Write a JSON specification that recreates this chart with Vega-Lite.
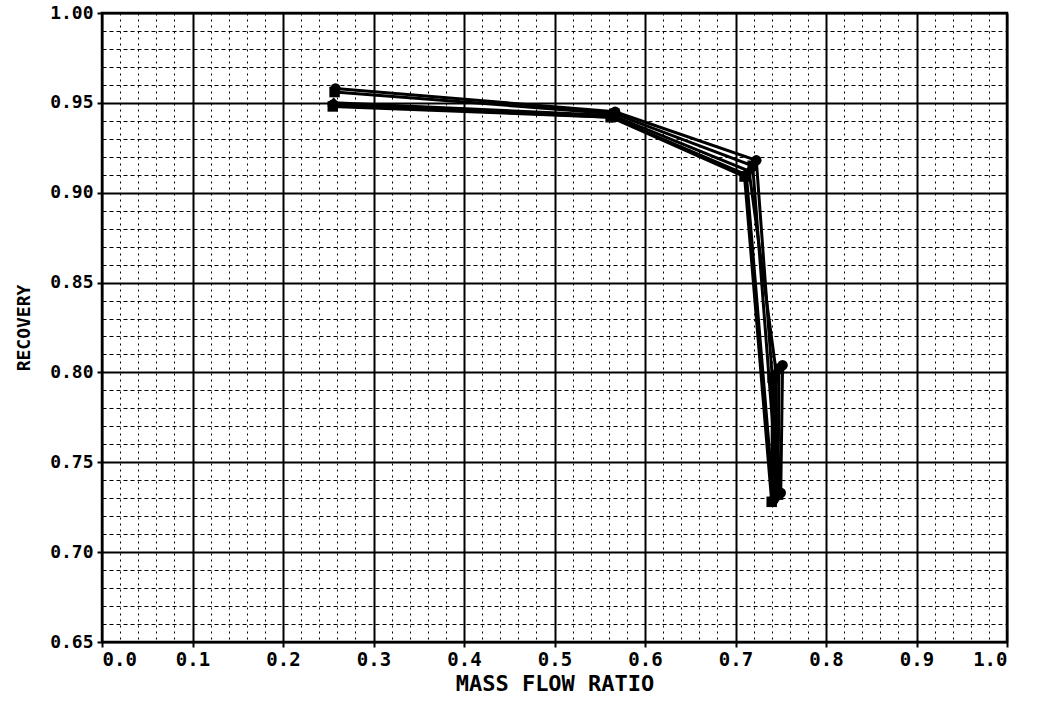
{
  "$schema": "https://vega.github.io/schema/vega-lite/v6.json",
  "width": 905,
  "height": 629,
  "autosize": "none",
  "padding": {"left": 102, "top": 13, "right": 34, "bottom": 62},
  "background": "white",
  "config": {
    "view": {"stroke": "black", "strokeWidth": 2.5},
    "axis": {
      "labelFont": "DejaVu Sans Mono",
      "labelFontWeight": "bold",
      "labelColor": "black",
      "titleFont": "DejaVu Sans Mono",
      "titleFontWeight": "bold",
      "titleColor": "black",
      "tickColor": "black",
      "domainColor": "black"
    }
  },
  "data": {
    "values": [
      {"s": "A", "x": 0.258, "y": 0.958}, {"s": "A", "x": 0.567, "y": 0.945}, {"s": "A", "x": 0.723, "y": 0.918}, {"s": "A", "x": 0.752, "y": 0.804}, {"s": "A", "x": 0.750, "y": 0.733},
      {"s": "B", "x": 0.257, "y": 0.956}, {"s": "B", "x": 0.566, "y": 0.944}, {"s": "B", "x": 0.719, "y": 0.915}, {"s": "B", "x": 0.748, "y": 0.802}, {"s": "B", "x": 0.747, "y": 0.732},
      {"s": "C", "x": 0.256, "y": 0.950}, {"s": "C", "x": 0.564, "y": 0.943}, {"s": "C", "x": 0.715, "y": 0.912}, {"s": "C", "x": 0.745, "y": 0.800}, {"s": "C", "x": 0.745, "y": 0.730},
      {"s": "D", "x": 0.255, "y": 0.949}, {"s": "D", "x": 0.563, "y": 0.942}, {"s": "D", "x": 0.712, "y": 0.910}, {"s": "D", "x": 0.743, "y": 0.798}, {"s": "D", "x": 0.742, "y": 0.729},
      {"s": "E", "x": 0.255, "y": 0.948}, {"s": "E", "x": 0.562, "y": 0.942}, {"s": "E", "x": 0.710, "y": 0.909}, {"s": "E", "x": 0.741, "y": 0.797}, {"s": "E", "x": 0.740, "y": 0.728}
    ]
  },
  "layer": [
    {
      "mark": {"type": "line", "opacity": 0},
      "encoding": {
        "x": {"field": "x", "type": "quantitative", "scale": {"domain": [0, 1], "nice": false, "zero": false},
          "axis": {"orient": "bottom", "values": [0.02,0.04,0.06,0.08,0.12,0.14,0.16,0.18,0.22,0.24,0.26,0.28,0.32,0.34,0.36,0.38,0.42,0.44,0.46,0.48,0.52,0.54,0.56,0.58,0.62,0.64,0.66,0.68,0.72,0.74,0.76,0.78,0.82,0.84,0.86,0.88,0.92,0.94,0.96,0.98],
            "grid": true, "gridColor": "black", "gridDash": [2, 4], "gridWidth": 1, "gridOpacity": 1, "labels": false, "ticks": false, "domain": false, "title": null}},
        "y": {"field": "y", "type": "quantitative", "scale": {"domain": [0.65, 1], "nice": false, "zero": false},
          "axis": {"orient": "left", "values": [0.66,0.67,0.68,0.69,0.71,0.72,0.73,0.74,0.76,0.77,0.78,0.79,0.81,0.82,0.83,0.84,0.86,0.87,0.88,0.89,0.91,0.92,0.93,0.94,0.96,0.97,0.98,0.99],
            "grid": true, "gridColor": "black", "gridDash": [4, 3], "gridWidth": 1.2, "gridOpacity": 1, "labels": false, "ticks": false, "domain": false, "title": null}},
        "detail": {"field": "s"}
      }
    },
    {
      "mark": {"type": "line", "color": "black", "strokeWidth": 3},
      "encoding": {
        "x": {"field": "x", "type": "quantitative", "scale": {"domain": [0, 1], "nice": false, "zero": false},
          "axis": {"orient": "bottom", "values": [0,0.1,0.2,0.3,0.4,0.5,0.6,0.7,0.8,0.9,1.0], "format": ".1f",
            "grid": true, "gridColor": "black", "gridWidth": 2, "gridOpacity": 1, "domain": false,
            "ticks": true, "tickSize": 5, "tickWidth": 2, "labelFontSize": 19, "labelPadding": 3,
            "title": "MASS FLOW RATIO", "titleFontSize": 22, "titlePadding": 4}},
        "y": {"field": "y", "type": "quantitative", "scale": {"domain": [0.65, 1], "nice": false, "zero": false},
          "axis": {"orient": "left", "values": [0.65,0.7,0.75,0.8,0.85,0.9,0.95,1.0], "format": ".2f",
            "grid": true, "gridColor": "black", "gridWidth": 2, "gridOpacity": 1, "domain": false,
            "ticks": true, "tickSize": 5, "tickWidth": 2, "labelFontSize": 18, "labelPadding": 4,
            "title": "RECOVERY", "titleFontSize": 18, "titlePadding": 16}},
        "detail": {"field": "s"}
      }
    },
    {
      "mark": {"type": "point", "filled": true, "color": "black", "size": 110, "opacity": 1},
      "encoding": {
        "x": {"field": "x", "type": "quantitative", "axis": null},
        "y": {"field": "y", "type": "quantitative", "axis": null},
        "shape": {"field": "s", "type": "nominal", "legend": null,
          "scale": {"range": ["circle", "square", "diamond", "circle", "square"]}}
      }
    }
  ],
  "resolve": {"axis": {"x": "independent", "y": "independent"}}
}
